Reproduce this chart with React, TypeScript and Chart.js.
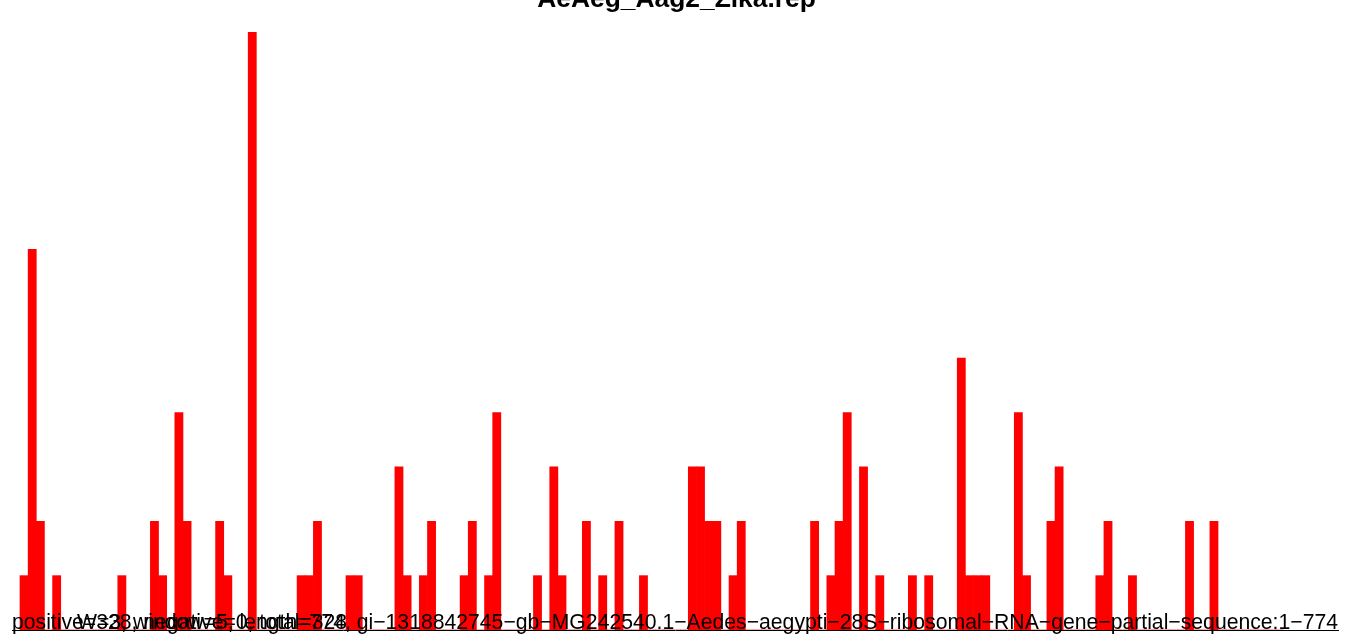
import React, { useEffect, useRef } from "react";
import { Chart, registerables } from "chart.js";

Chart.register(...registerables);

const TITLE = "AeAeg_Aag2_Zika.rep";
const LEFT_NOTE = "positive=328, negative=0, total=328";
const RIGHT_NOTE =
  "W=3, window=5, length=774, gi−1318842745−gb−MG242540.1−Aedes−aegypti−28S−ribosomal−RNA−gene−partial−sequence:1−774";

// counts per 5-nt window (155 windows along the 774-nt sequence)
const binCounts = [
  1, 7, 2, 0, 1, 0, 0, 0, 0, 0,
  0, 0, 1, 0, 0, 0, 2, 1, 0, 4,
  2, 0, 0, 0, 2, 1, 0, 0, 11, 0,
  0, 0, 0, 0, 1, 1, 2, 0, 0, 0,
  1, 1, 0, 0, 0, 0, 3, 1, 0, 1,
  2, 0, 0, 0, 1, 2, 0, 1, 4, 0,
  0, 0, 0, 1, 0, 3, 1, 0, 0, 2,
  0, 1, 0, 2, 0, 0, 1, 0, 0, 0,
  0, 0, 3, 3, 2, 2, 0, 1, 2, 0,
  0, 0, 0, 0, 0, 0, 0, 2, 0, 1,
  2, 4, 0, 3, 0, 1, 0, 0, 0, 1,
  0, 1, 0, 0, 0, 5, 1, 1, 1, 0,
  0, 0, 4, 1, 0, 0, 2, 3, 0, 0,
  0, 0, 1, 2, 0, 0, 1, 0, 0, 0,
  0, 0, 0, 2, 0, 0, 2, 0, 0, 0,
  0, 0, 0, 0, 0,
];

const X_MIN = -1.48;
const X_MAX = 161.22;
const Y_MAX = 11;

export default function App() {
  const ref = useRef<HTMLCanvasElement>(null);

  useEffect(() => {
    const canvas = ref.current;
    if (!canvas) return;
    const points = binCounts.map((v, i) => ({ x: i, y: v }));

    const textPlugin = {
      id: "rText",
      afterDraw(chart: any) {
        const { ctx, chartArea } = chart;
        ctx.save();
        ctx.fillStyle = "#000000";
        ctx.textBaseline = "alphabetic";
        ctx.font = "bold 26.4px 'Liberation Sans', Arial, sans-serif";
        ctx.textAlign = "center";
        ctx.fillText(TITLE, (chartArea.left + chartArea.right) / 2 + 1.5, 7);
        ctx.font = "21.2px 'Liberation Sans', Arial, sans-serif";
        ctx.textAlign = "left";
        ctx.fillText(LEFT_NOTE, chartArea.left, chartArea.bottom - 1);
        ctx.textAlign = "right";
        ctx.fillText(RIGHT_NOTE, chartArea.right, chartArea.bottom - 1);
        ctx.restore();
      },
    };

    const chart = new Chart(canvas, {
      type: "bar",
      data: {
        datasets: [
          {
            data: points,
            backgroundColor: "#ff0000",
            borderWidth: 0,
            barPercentage: 1,
            categoryPercentage: 1,
          },
        ],
      },
      options: {
        animation: false,
        responsive: true,
        maintainAspectRatio: false,
        events: [],
        layout: { padding: { left: 12, right: 14, top: 32, bottom: 4 } },
        plugins: {
          legend: { display: false },
          tooltip: { enabled: false },
          title: { display: false },
        },
        scales: {
          x: {
            type: "linear",
            min: X_MIN,
            max: X_MAX,
            offset: false,
            ticks: { display: false },
            grid: { display: false, drawTicks: false, offset: false },
            border: { display: true, color: "#000000", width: 1 },
          },
          y: {
            display: false,
            min: 0,
            max: Y_MAX,
          },
        },
      },
      plugins: [textPlugin],
    });

    return () => chart.destroy();
  }, []);

  return (
    <div style={{ position: "fixed", left: 0, top: 0, width: 1352, height: 634, background: "#fff" }}>
      <canvas ref={ref} />
    </div>
  );
}
